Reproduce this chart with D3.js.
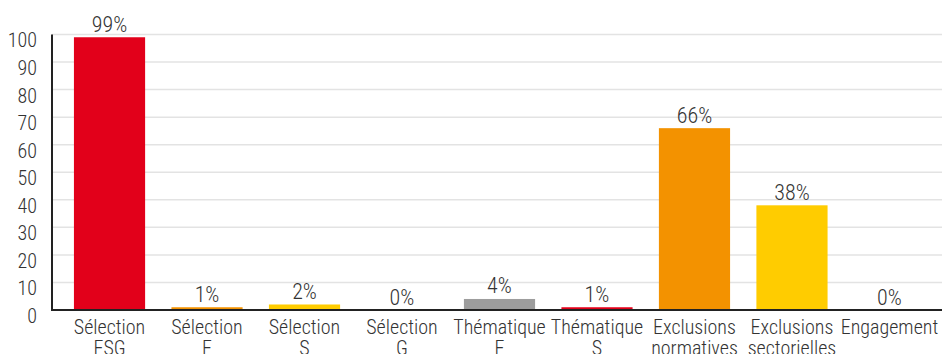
<!DOCTYPE html>
<html>
<head>
<meta charset="utf-8">
<script src="https://cdn.jsdelivr.net/npm/d3@7"></script>
<style>
  html, body { margin: 0; padding: 0; background: #fff; overflow: hidden; }
  svg { display: block; }
  text { font-family: "Roboto Condensed", "Liberation Sans Narrow", sans-serif; font-weight: 300; fill: #333; }
</style>
</head>
<body>
<svg id="chart" width="942" height="354"></svg>
<script>
// Categories (two-line labels) and their shares in percent
const categories = [
  ["Sélection", "ESG"],
  ["Sélection", "E"],
  ["Sélection", "S"],
  ["Sélection", "G"],
  ["Thématique", "E"],
  ["Thématique", "S"],
  ["Exclusions", "normatives"],
  ["Exclusions", "sectorielles"],
  ["Engagement", ""]
];
const values = [99, 1, 2, 0, 4, 1, 66, 38, 0];
const barColors = ["#e2001a", "#f39200", "#ffcc00", "#555555", "#9d9d9d", "#e2001a", "#f39200", "#ffcc00", "#555555"];
const yTicks = [0, 10, 20, 30, 40, 50, 60, 70, 80, 90, 100];

const width = 942, height = 354;
const margin = { left: 52, top: 34.5, bottom: 310 };

const svg = d3.select("#chart");

const x = d3.scaleBand()
  .domain(d3.range(categories.length))
  .range([margin.left, 947])
  .paddingInner(0.27)
  .paddingOuter(0.225);

const y = d3.scaleLinear()
  .domain([0, 100])
  .range([margin.bottom, margin.top]);

// Horizontal gridlines
svg.append("g")
  .selectAll("line")
  .data(yTicks.filter(d => d > 0))
  .join("line")
  .attr("x1", margin.left)
  .attr("x2", width)
  .attr("y1", d => y(d))
  .attr("y2", d => y(d))
  .attr("stroke", "#e3e3e3")
  .attr("stroke-width", 1.5);

// Y axis labels (set slightly below their gridlines)
const yAxis = d3.axisLeft(y).tickValues(yTicks).tickSize(0).tickPadding(15);
const yg = svg.append("g")
  .attr("transform", `translate(${margin.left},0)`)
  .call(yAxis);
yg.select(".domain").remove();
yg.selectAll("text")
  .style("font-size", "20px")
  .attr("fill", "#333")
  .attr("dy", "0.62em");

// Bars
svg.append("g")
  .selectAll("rect")
  .data(values)
  .join("rect")
  .attr("x", (d, i) => x(i))
  .attr("width", x.bandwidth())
  .attr("y", d => y(d))
  .attr("height", d => y(0) - y(d))
  .attr("fill", (d, i) => barColors[i]);

// Value labels above bars
svg.append("g")
  .selectAll("text")
  .data(values)
  .join("text")
  .attr("x", (d, i) => x(i) + x.bandwidth() / 2)
  .attr("y", d => y(d) - 5.5)
  .attr("text-anchor", "middle")
  .style("font-size", "22px")
  .text(d => d + "%");

// Axis lines
svg.append("line")
  .attr("x1", margin.left).attr("x2", margin.left)
  .attr("y1", margin.top).attr("y2", margin.bottom + 1)
  .attr("stroke", "#222").attr("stroke-width", 2);
svg.append("line")
  .attr("x1", margin.left - 1).attr("x2", width)
  .attr("y1", margin.bottom).attr("y2", margin.bottom)
  .attr("stroke", "#222").attr("stroke-width", 2);

// Category labels
const xAxis = d3.axisBottom(x).tickSize(0).tickFormat(() => "");
const xg = svg.append("g")
  .attr("transform", `translate(0,${margin.bottom})`)
  .call(xAxis);
xg.select(".domain").remove();
xg.selectAll(".tick text").remove();
xg.selectAll(".tick")
  .append("text")
  .attr("text-anchor", "middle")
  .style("font-size", "20px")
  .selectAll("tspan")
  .data(i => categories[i])
  .join("tspan")
  .attr("x", 0)
  .attr("y", (d, j) => 24 + j * 21)
  .text(d => d);
</script>
</body>
</html>
